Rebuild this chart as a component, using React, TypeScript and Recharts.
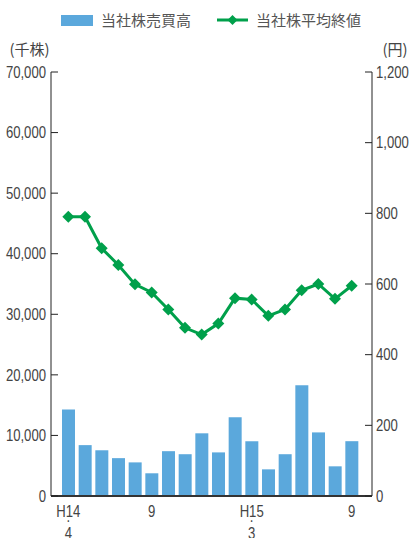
import {
  ComposedChart,
  Bar,
  Line,
  XAxis,
  YAxis,
  Legend,
} from "recharts";

const months = [
  "H14.4", "H14.5", "H14.6", "H14.7", "H14.8", "H14.9",
  "H14.10", "H14.11", "H14.12", "H15.1", "H15.2", "H15.3",
  "H15.4", "H15.5", "H15.6", "H15.7", "H15.8", "H15.9",
];

// 当社株売買高 (千株)
const volume = [
  14300, 8400, 7550, 6250, 5550, 3750, 7400, 6900, 10350,
  7200, 13000, 9050, 4400, 6900, 18300, 10500, 4900, 9050,
];

// 当社株平均終値 (円)
const avgClose = [
  790, 790, 701, 654, 599, 576, 528, 476, 457,
  488, 560, 556, 510, 528, 582, 600, 558, 595,
];

const leftTicks = [0, 10000, 20000, 30000, 40000, 50000, 60000, 70000];
const rightTicks = [0, 200, 400, 600, 800, 1000, 1200];

const tickMonths = ["H14.4", "H14.9", "H15.3", "H15.9"];
const tickLines = [["H14", ".", "4"], ["9"], ["H15", ".", "3"], ["9"]];

const data = months.map((m, i) => ({
  month: m,
  volume: volume[i],
  price: avgClose[i],
}));

const BLUE = "#5ba8dc";
const GREEN = "#00a04b";
const TEXT = "#444";
const NUM_FONT = "'Liberation Sans', Arial, sans-serif";
const JP_FONT = "'Noto Sans CJK JP', sans-serif";
const SQUEEZE = 0.82;

function Diamond(props: any) {
  const { cx, cy } = props;
  if (cx == null || cy == null) return null;
  const r = 6;
  return (
    <polygon
      points={`${cx},${cy - r} ${cx + r},${cy} ${cx},${cy + r} ${cx - r},${cy}`}
      fill={GREEN}
    />
  );
}

// narrow numerals like the original print
function NumTick(props: any) {
  const { x, y, payload, anchor } = props;
  return (
    <text
      transform={`translate(${x},${y}) scale(${SQUEEZE},1)`}
      dy="0.36em"
      textAnchor={anchor}
      fill={TEXT}
      fontSize={16}
      fontFamily={NUM_FONT}
    >
      {Number(payload.value).toLocaleString("en-US")}
    </text>
  );
}

function MonthTick(props: any) {
  const { x, y, payload } = props;
  const idx = tickMonths.indexOf(payload.value);
  if (idx < 0) return null;
  const lines = tickLines[idx];
  const ys = [13, 18, 35];
  return (
    <g transform={`translate(${x},${y})`}>
      {lines.map((t, i) => (
        <text
          key={i}
          transform={`translate(0,${ys[i]}) scale(${SQUEEZE},1)`}
          textAnchor="middle"
          fill={TEXT}
          fontSize={16}
          fontFamily={NUM_FONT}
        >
          {t}
        </text>
      ))}
    </g>
  );
}

function LegendBox() {
  return (
    <div style={{ height: 64, position: "relative" }}>
      <svg width={412} height={30} style={{ position: "absolute", left: 0, top: -8 }}>
        <rect x={61} y={15} width={32} height={11} fill={BLUE} />
        <text x={101} y={26} fontSize={15} fill="#555" fontFamily={JP_FONT}>
          当社株売買高
        </text>
        <line x1={217} y1={20} x2={248} y2={20} stroke={GREEN} strokeWidth={3} />
        <polygon points="232.5,15 237.5,20 232.5,25 227.5,20" fill={GREEN} />
        <text x={256} y={26} fontSize={15} fill="#555" fontFamily={JP_FONT}>
          当社株平均終値
        </text>
      </svg>
    </div>
  );
}

export default function App() {
  return (
    <div style={{ position: "absolute", left: 0, top: 0, background: "#fff" }}>
      <ComposedChart
        width={412}
        height={538}
        data={data}
        margin={{ top: 8, right: 0, left: 0, bottom: 0 }}
      >
        <Legend
          verticalAlign="top"
          content={() => <LegendBox />}
          wrapperStyle={{ left: 0, width: 412 }}
        />
        <XAxis
          dataKey="month"
          ticks={tickMonths}
          interval={0}
          tick={<MonthTick />}
          tickLine={false}
          axisLine={{ stroke: "#333", strokeWidth: 2 }}
          height={42}
          padding={{ left: 9, right: 12 }}
        />
        <YAxis
          yAxisId="left"
          orientation="left"
          width={51}
          domain={[0, 70000]}
          ticks={leftTicks}
          interval={0}
          tickSize={-7}
          tickMargin={12}
          tick={<NumTick anchor="end" />}
          axisLine={{ stroke: "#222" }}
          tickLine={{ stroke: "#222" }}
          label={{
            value: "(千株)",
            position: "top",
            offset: 17,
            dx: 4,
            fill: TEXT,
            fontSize: 15,
            fontFamily: JP_FONT,
          }}
        />
        <YAxis
          yAxisId="right"
          orientation="right"
          width={40}
          domain={[0, 1200]}
          ticks={rightTicks}
          interval={0}
          tickSize={-7}
          tickMargin={11}
          tick={<NumTick anchor="start" />}
          axisLine={{ stroke: "#222" }}
          tickLine={{ stroke: "#222" }}
          label={{
            value: "(円)",
            position: "top",
            offset: 17,
            dx: 3,
            fill: TEXT,
            fontSize: 15,
            fontFamily: JP_FONT,
          }}
        />
        <Bar
          yAxisId="left"
          dataKey="volume"
          name="当社株売買高"
          fill={BLUE}
          barSize={13}
          isAnimationActive={false}
        />
        <Line
          yAxisId="right"
          dataKey="price"
          name="当社株平均終値"
          stroke={GREEN}
          strokeWidth={3}
          dot={<Diamond />}
          activeDot={false}
          isAnimationActive={false}
        />
      </ComposedChart>
    </div>
  );
}
